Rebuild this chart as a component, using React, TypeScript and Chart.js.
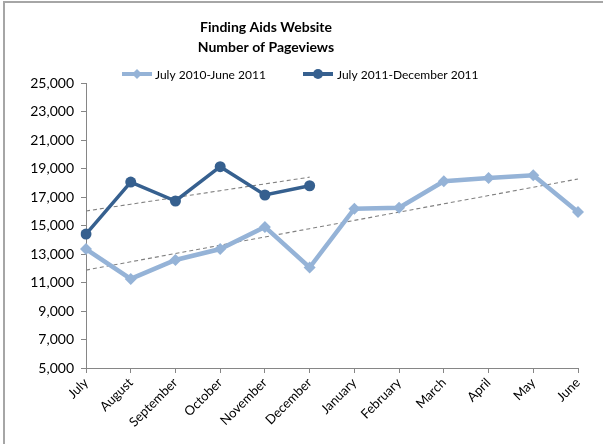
import { useEffect, useRef } from 'react';
import { Chart, registerables } from 'chart.js';

Chart.register(...registerables);

const months = ['July', 'August', 'September', 'October', 'November', 'December', 'January', 'February', 'March', 'April', 'May', 'June'];
const titleLines = ['Finding Aids Website', 'Number of Pageviews'];
const label2010 = 'July 2010-June 2011';
const label2011 = 'July 2011-December 2011';
const pageviews2010 = [13350, 11250, 12580, 13350, 14900, 12050, 16180, 16250, 18100, 18330, 18520, 15950];
const pageviews2011 = [14400, 18050, 16720, 19130, 17140, 17790];
const yMin = 5000;
const yMax = 25000;
const yStep = 2000;

const LIGHT = '#95B3D7';
const DARK = '#36608F';
const TREND = '#808080';
const AXIS = '#868686';
const FONT = 'Lato, "Noto Sans", sans-serif';

// Excel-style linear (least squares) trendline over the points of a series
function linearTrend(values: number[], length: number): (number | null)[] {
  const n = values.length;
  const mx = (n - 1) / 2;
  const my = values.reduce((a, b) => a + b, 0) / n;
  let sxy = 0;
  let sxx = 0;
  values.forEach((v, i) => {
    sxy += (i - mx) * (v - my);
    sxx += (i - mx) * (i - mx);
  });
  const slope = sxy / sxx;
  const out: (number | null)[] = [];
  for (let i = 0; i < length; i++) out.push(i < n ? my + slope * (i - mx) : null);
  return out;
}

const titleLegendPlugin = {
  id: 'titleLegend',
  afterDraw(chart: any) {
    const ctx = chart.ctx as CanvasRenderingContext2D;
    ctx.save();
    // title
    ctx.fillStyle = '#000';
    ctx.textAlign = 'center';
    ctx.textBaseline = 'middle';
    ctx.font = `bold 14px ${FONT}`;
    ctx.fillText(titleLines[0], 266, 27);
    ctx.fillText(titleLines[1], 266, 47);

    // legend
    const ly = 74;
    ctx.font = `12px ${FONT}`;
    ctx.textAlign = 'left';
    // light item
    ctx.strokeStyle = LIGHT;
    ctx.lineWidth = 4;
    ctx.beginPath();
    ctx.moveTo(122, ly);
    ctx.lineTo(152, ly);
    ctx.stroke();
    ctx.fillStyle = LIGHT;
    ctx.beginPath();
    ctx.moveTo(137, ly - 5);
    ctx.lineTo(142, ly);
    ctx.lineTo(137, ly + 5);
    ctx.lineTo(132, ly);
    ctx.closePath();
    ctx.fill();
    ctx.fillStyle = '#000';
    ctx.fillText(label2010, 155, ly + 1);
    // dark item
    ctx.strokeStyle = DARK;
    ctx.lineWidth = 4;
    ctx.beginPath();
    ctx.moveTo(303, ly);
    ctx.lineTo(333, ly);
    ctx.stroke();
    ctx.fillStyle = DARK;
    ctx.beginPath();
    ctx.arc(318, ly, 5, 0, Math.PI * 2);
    ctx.fill();
    ctx.fillStyle = '#000';
    ctx.fillText(label2011, 337, ly + 1);
    ctx.restore();
  },
};

export default function App() {
  const canvasRef = useRef<HTMLCanvasElement | null>(null);

  useEffect(() => {
    if (!canvasRef.current) return;
    const trend2011 = linearTrend(pageviews2011, months.length);
    const trend2010 = linearTrend(pageviews2010, months.length);
    const chart = new Chart(canvasRef.current, {
      type: 'line',
      data: {
        labels: months,
        datasets: [
          {
            label: label2011,
            data: pageviews2011,
            borderColor: DARK,
            backgroundColor: DARK,
            borderWidth: 3.5,
            pointStyle: 'circle',
            pointRadius: 5.5,
            pointBorderWidth: 0,
            tension: 0,
          },
          {
            label: label2010,
            data: pageviews2010,
            borderColor: LIGHT,
            backgroundColor: LIGHT,
            borderWidth: 4.5,
            pointStyle: 'rectRot',
            pointRadius: 6,
            pointBorderWidth: 0,
            tension: 0,
          },
          {
            label: 'trend2011',
            data: trend2011,
            borderColor: TREND,
            borderWidth: 1.1,
            borderDash: [4, 3],
            pointRadius: 0,
            tension: 0,
          },
          {
            label: 'trend2010',
            data: trend2010,
            borderColor: TREND,
            borderWidth: 1.1,
            borderDash: [4, 3],
            pointRadius: 0,
            tension: 0,
          },
        ],
      },
      options: {
        animation: false,
        responsive: false,
        devicePixelRatio: 1,
        layout: { padding: { top: 83, right: 25, left: 0, bottom: 0 } },
        plugins: {
          legend: { display: false },
          title: { display: false },
          tooltip: { enabled: false },
        },
        scales: {
          x: {
            type: 'category',
            offset: false,
            afterFit: (s: any) => {
              s.height = 76;
            },
            grid: {
              offset: false,
              drawOnChartArea: false,
              drawTicks: true,
              tickLength: 5,
              color: AXIS,
            },
            border: { color: AXIS, width: 1 },
            ticks: {
              minRotation: 45,
              maxRotation: 45,
              autoSkip: false,
              padding: 2,
              color: '#000',
              font: { family: FONT, size: 13 },
            },
          },
          y: {
            min: yMin,
            max: yMax,
            afterFit: (s: any) => {
              s.width = 86;
            },
            grid: {
              drawOnChartArea: false,
              drawTicks: true,
              tickLength: 5,
              color: AXIS,
            },
            border: { color: AXIS, width: 1 },
            ticks: {
              stepSize: yStep,
              padding: 7,
              color: '#000',
              font: { family: FONT, size: 14 },
              callback: (v: any) => Number(v).toLocaleString('en-US'),
            },
          },
        },
      },
      plugins: [titleLegendPlugin],
    });
    return () => chart.destroy();
  }, []);

  return (
    <div style={{ position: 'fixed', left: 0, top: 0, width: 603, height: 444, overflow: 'hidden', background: '#fff' }}>
      <div
        style={{
          position: 'absolute',
          left: 3,
          top: 1,
          width: 640,
          height: 480,
          border: '2px solid #a6a6a6',
          boxSizing: 'border-box',
        }}
      />
      <canvas ref={canvasRef} width={603} height={444} style={{ position: 'absolute', left: 0, top: 0, width: 603, height: 444 }} />
    </div>
  );
}
